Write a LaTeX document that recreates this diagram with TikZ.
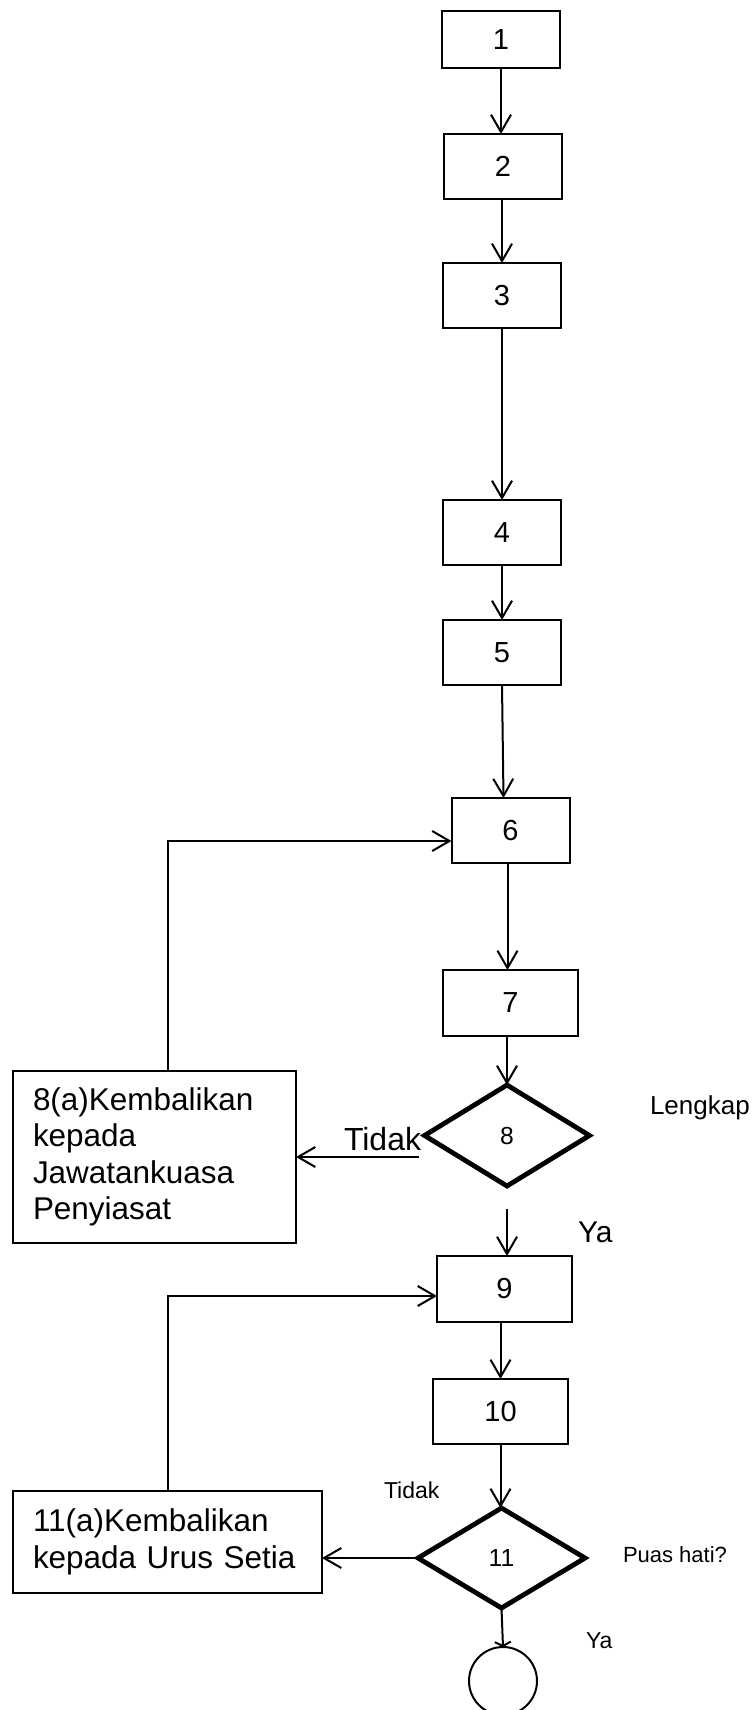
\documentclass[tikz,border=0pt]{standalone}
\usepackage{fontspec}
\setmainfont{Liberation Sans}
\usetikzlibrary{positioning, shapes.geometric, arrows.meta}
\newdimen\px \px=0.75pt

\begin{document}
\begin{tikzpicture}[x=0.75pt, y=-0.75pt, line width=1.5pt,
    box/.style={draw, inner sep=0pt, outer sep=0pt, minimum width=118*\px, minimum height=65*\px,
      font=\fontsize{21.75pt}{26pt}\selectfont},
    backbox/.style={draw, inner xsep=20*\px, inner ysep=0pt, outer sep=0pt, align=left,
      font=\fontsize{23.6pt}{27.3pt}\selectfont},
    decision/.style={draw, diamond, line width=3.6pt, inner sep=0pt, outer sep=0pt,
      font=\fontsize{18.5pt}{21pt}\selectfont},
    lbl/.style={inner sep=0pt, anchor=base west},
    arr/.style={-{Straight Barb[length=13pt, width=15pt]}}]
  \useasboundingbox (0,0) rectangle (751,1710);
  % main column
  \node[box, minimum height=57*\px] (box1) at (501,39.5) {1};
  \node[box, below=66*\px of box1, xshift=2*\px] (box2) {2};
  \node[box, below=64*\px of box2, xshift=-1*\px] (box3) {3};
  \node[box, below=172*\px of box3] (box4) {4};
  \node[box, below=55*\px of box4] (box5) {5};
  \node[box, below=113*\px of box5, xshift=8.5*\px] (box6) {6};
  \node[box, below=107*\px of box6, minimum width=135*\px, minimum height=66*\px] (box7) {7};
  \node[decision, below=49*\px of box7, xshift=-3.5*\px,
    minimum width=165*\px, minimum height=101*\px] (dia8) {8};
  \node[box, below=70*\px of dia8, xshift=-2.5*\px, minimum width=135*\px, minimum height=66*\px] (box9) {9};
  \node[box, below=57*\px of box9, xshift=-4*\px, minimum width=135*\px] (box10) {10};
  \node[decision, below=64*\px of box10, xshift=1*\px,
    minimum width=167*\px, minimum height=100*\px] (dia11) {11};
  \node[draw, circle, inner sep=0pt, outer sep=0pt, minimum size=68*\px, below=39*\px of dia11, xshift=1.5*\px] (end) {};
  % side boxes
  \node[backbox, text width=243*\px, minimum height=172*\px] (box8a) at (154.5,1157)
    {8(a)Kembalikan\\kepada\\Jawatankuasa\\Penyiasat};
  \node[backbox, text width=269*\px, minimum height=102*\px] (box11a) at (167.5,1542)
    {11(a)Kembalikan\\kepada Urus Setia};
  % labels
  \node[lbl, font=\fontsize{19.5pt}{22pt}\selectfont] (lengkap) at (649,1114) {Lengkap};
  \node[lbl, font=\fontsize{24pt}{28pt}\selectfont] (tidak8) at (343,1150) {Tidak};
  \node[lbl, font=\fontsize{22.5pt}{26pt}\selectfont] (ya8) at (577,1242) {Ya};
  \node[lbl, font=\fontsize{17.25pt}{20pt}\selectfont] (tidak11) at (383,1498) {Tidak};
  \node[lbl, font=\fontsize{16.5pt}{20pt}\selectfont] (puas) at (622,1562) {Puas hati?};
  \node[lbl, font=\fontsize{17.25pt}{20pt}\selectfont] (ya11) at (585,1648) {Ya};
  % connectors
  \draw[arr] (box1.south) -- (box1.south |- box2.north);
  \draw[arr] (box3.north |- box2.south) -- (box3.north);
  \draw[arr] (box3.south) -- (box3.south |- box4.north);
  \draw[arr] (box4.south) -- (box4.south |- box5.north);
  \draw[arr] (box5.south) -- ([xshift=1.5*\px]box5.south |- box6.north);
  \draw[arr] ([xshift=-3*\px]box6.south) -- ([xshift=-3*\px]box6.south |- box7.north);
  \draw[arr] (dia8.north |- box7.south) -- (dia8.north);
  \draw[arr] ([yshift=-23*\px]dia8.south) -- (dia8.south |- box9.north);
  \draw[arr] (box10.north |- box9.south) -- (box10.north);
  \draw[arr] (box10.south) -- (box10.south |- dia11.north);
  \draw[-{Straight Barb[length=3pt, width=12pt]}] (dia11.south) -- (end.north);
  \draw[arr] ([xshift=-6*\px]dia8.west |- box8a.east) -- (box8a.east);
  \draw[arr] (dia11.west) -- (box11a.east |- dia11.west);
  \draw[arr] (box8a.north -| box11a.north) |- ([yshift=-10.5*\px]box6.west);
  \draw[arr] (box11a.north) |- ([yshift=-7*\px]box9.west);
\end{tikzpicture}
\end{document}
